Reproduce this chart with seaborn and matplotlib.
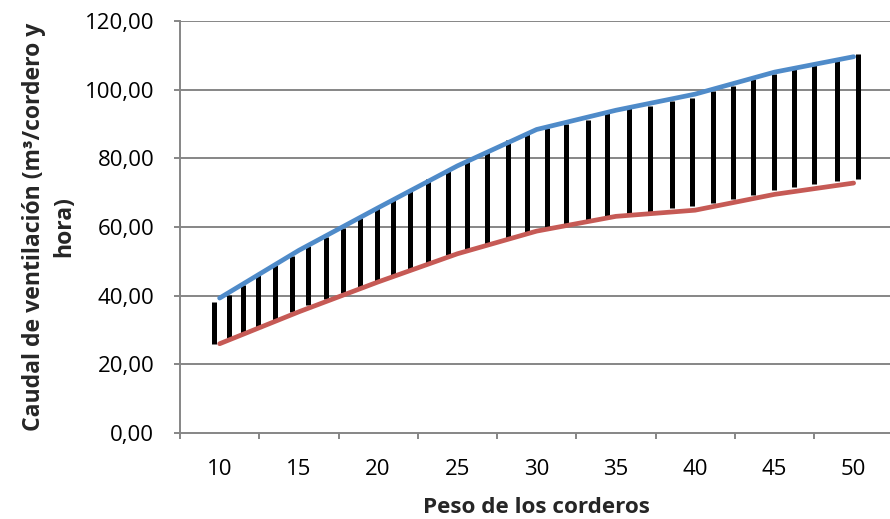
import matplotlib
matplotlib.use("Agg")
import matplotlib.pyplot as plt
import seaborn as sns
import pandas as pd
import numpy as np
from matplotlib.ticker import FixedLocator, FuncFormatter

# ---- data ----
weights = [10, 15, 20, 25, 30, 35, 40, 45, 50]
upper = [39.3, 53.2, 65.6, 77.8, 88.4, 94.0, 98.7, 105.1, 109.6]
lower = [26.0, 35.3, 44.0, 52.2, 58.8, 63.1, 64.9, 69.5, 72.8]

# hatch strokes (hand-drawn vertical bars between the two curves)
stroke_x = [9.65, 10.59, 11.50, 12.44, 13.50, 14.55, 15.60, 16.71, 17.77, 18.86,
            19.91, 20.96, 22.01, 23.17, 24.43, 25.59, 26.85, 28.18, 29.41, 30.64,
            31.84, 33.22, 34.46, 35.83, 37.15, 38.52, 39.78, 41.11, 42.41, 43.67,
            44.98, 46.24, 47.50, 48.97, 50.30]
stroke_top = [38.1, 40.3, 43.2, 45.9, 48.8, 51.6, 54.4, 57.1, 59.8, 62.7,
              65.4, 68.0, 70.9, 74.1, 76.7, 79.2, 81.8, 85.3, 87.5, 88.7,
              89.9, 91.3, 93.3, 94.8, 95.3, 96.7, 97.7, 99.6, 101.0, 103.1,
              104.5, 106.0, 107.4, 108.6, 110.5]
stroke_bottom = [26.0, 27.6, 29.2, 30.8, 33.0, 35.2, 37.2, 38.9, 40.9, 42.5,
                 44.3, 46.0, 47.7, 49.5, 51.7, 53.5, 54.9, 56.8, 58.5, 59.7,
                 60.7, 61.9, 62.9, 63.4, 64.1, 65.4, 66.0, 67.1, 68.3, 69.2,
                 70.7, 71.7, 72.4, 73.4, 74.1]

y_ticks = [0, 20, 40, 60, 80, 100, 120]
x_title = "Peso de los corderos"
y_title = "Caudal de ventilación (m³/cordero y\nhora)"

df = pd.DataFrame({"Peso": weights + weights,
                   "Caudal": upper + lower,
                   "Serie": ["max"] * len(weights) + ["min"] * len(weights)})

sns.set_theme(style="white")
plt.rcParams["font.family"] = ["Open Sans", "DejaVu Sans"]

fig = plt.figure(figsize=(8.90, 5.19), dpi=100)
ax = fig.add_axes([180 / 890, 1 - 433 / 519, (893.25 - 180) / 890, (433 - 21) / 519])

grid_c = "#868686"
for v in y_ticks[1:]:
    ax.axhline(v, color=grid_c, lw=1.4, zorder=0)

ax.vlines(stroke_x, stroke_bottom, stroke_top, colors="black", lw=3.6,
          zorder=2, capstyle="butt")

sns.lineplot(data=df, x="Peso", y="Caudal", hue="Serie",
             palette={"max": "#4F8BC9", "min": "#C65A55"},
             lw=3.4, legend=False, ax=ax, zorder=3,
             solid_capstyle="round")

ax.set_xlim(7.5, 52.5)
ax.set_ylim(0, 120)

ax.xaxis.set_major_locator(FixedLocator(weights))
ax.xaxis.set_minor_locator(FixedLocator([7.5 + 5 * k for k in range(10)]))
ax.set_xticklabels([str(w) for w in weights])
ax.set_yticks(y_ticks)
ax.yaxis.set_major_formatter(FuncFormatter(lambda v, p: f"{v:.2f}".replace(".", ",")))

ax.tick_params(axis="x", which="major", length=0, pad=19, labelsize=16, colors="black")
ax.tick_params(axis="x", which="minor", length=4.5, width=1.4, color=grid_c, direction="out", bottom=True)
ax.tick_params(axis="y", which="major", length=4.5, width=1.4, color=grid_c, direction="out",
               left=True, pad=14, labelsize=16, labelcolor="black")

for s in ["top", "right"]:
    ax.spines[s].set_visible(False)
for s in ["left", "bottom"]:
    ax.spines[s].set_color(grid_c)
    ax.spines[s].set_linewidth(1.4)

ax.set_xlabel(x_title, fontsize=16.2, fontweight="bold", labelpad=12)
ax.set_ylabel(y_title, fontsize=16.6, fontweight="bold", labelpad=6,
              linespacing=1.35, ha="center")

fig.savefig("out.png", dpi=100)
